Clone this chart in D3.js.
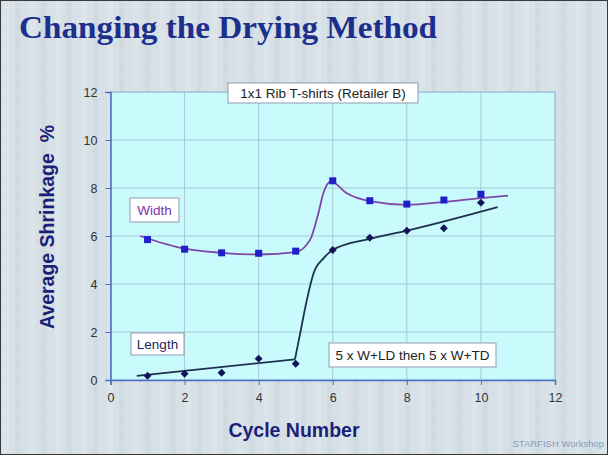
<!DOCTYPE html>
<html>
<head>
<meta charset="utf-8">
<script src="https://cdn.jsdelivr.net/npm/d3@7"></script>
<style>
  body { margin: 0; background: #d6e0e6; }
  svg { display: block; }
</style>
</head>
<body>
<div id="chart"></div>
<script>
// chart data
var cycles = [1, 2, 3, 4, 5, 6, 7, 8, 9, 10];
var widthValues = [5.85, 5.45, 5.3, 5.28, 5.37, 8.3, 7.47, 7.33, 7.5, 7.74];
var lengthValues = [0.18, 0.26, 0.3, 0.89, 0.68, 5.42, 5.93, 6.22, 6.32, 7.39];

// hand drawn trend curves
var widthTrendX = [0.8, 2, 3, 4, 5, 5.39, 5.61, 5.75, 5.95, 6.38, 7, 8, 9, 10, 10.73];
var widthTrendY = [6.0, 5.47, 5.3, 5.23, 5.33, 5.85, 6.94, 7.8, 8.28, 7.78, 7.45, 7.3, 7.42, 7.58, 7.68];
var lengthLowX = [0.71, 4.98];
var lengthLowY = [0.17, 0.86];
var lengthHighX = [4.98, 5.12, 5.3, 5.48, 5.75, 6, 7, 8, 10.45];
var lengthHighY = [0.86, 1.94, 3.33, 4.44, 5.07, 5.42, 5.88, 6.22, 7.2];

var xTicks = [0, 2, 4, 6, 8, 10, 12];
var yTicks = [0, 2, 4, 6, 8, 10, 12];

var W = 608, H = 455;
var plot = { left: 110.5, top: 92, right: 555, bottom: 380 };

var svg = d3.select("#chart").append("svg")
    .attr("width", W)
    .attr("height", H);

// faint woven texture for the slide background
var defs = svg.append("defs");
var pat = defs.append("pattern")
    .attr("id", "weave")
    .attr("width", 26).attr("height", 14)
    .attr("patternUnits", "userSpaceOnUse");
pat.append("rect").attr("width", 26).attr("height", 14).attr("fill", "#d6e0e6");
pat.append("rect").attr("x", 3).attr("width", 6).attr("height", 14).attr("fill", "#dbe4e9");
pat.append("rect").attr("x", 15).attr("width", 5).attr("height", 14).attr("fill", "#d0dae1");
pat.append("rect").attr("y", 6).attr("width", 26).attr("height", 2).attr("fill", "#ffffff").attr("opacity", 0.08);

svg.append("rect")
    .attr("x", 0.5).attr("y", 0.5)
    .attr("width", W - 1).attr("height", H - 1)
    .attr("fill", "url(#weave)")
    .attr("stroke", "#3a3a3a");

// title
svg.append("text")
    .attr("x", 19).attr("y", 38)
    .attr("font-family", "Liberation Serif, Times New Roman, serif")
    .attr("font-weight", "bold")
    .attr("font-size", 32)
    .attr("textLength", 418)
    .attr("lengthAdjust", "spacingAndGlyphs")
    .attr("fill", "#1c2f8c")
    .text("Changing the Drying Method");

var x = d3.scaleLinear().domain([0, 12]).range([plot.left, plot.right]);
var y = d3.scaleLinear().domain([0, 12]).range([plot.bottom, plot.top]);

// plot area
svg.append("rect")
    .attr("x", plot.left).attr("y", plot.top)
    .attr("width", plot.right - plot.left)
    .attr("height", plot.bottom - plot.top)
    .attr("fill", "#cafbfc")
    .attr("stroke", "#8aa4c8");

// gridlines
svg.append("g").selectAll("line")
    .data(xTicks.slice(1, -1))
    .join("line")
    .attr("x1", d => x(d)).attr("x2", d => x(d))
    .attr("y1", plot.top).attr("y2", plot.bottom)
    .attr("stroke", "#a9c6d2").attr("stroke-width", 1);
svg.append("g").selectAll("line")
    .data(yTicks.slice(1, -1))
    .join("line")
    .attr("x1", plot.left).attr("x2", plot.right)
    .attr("y1", d => y(d)).attr("y2", d => y(d))
    .attr("stroke", "#a9c6d2").attr("stroke-width", 1);

// axes
var xAxis = svg.append("g")
    .attr("transform", "translate(0," + plot.bottom + ")")
    .call(d3.axisBottom(x).tickValues(xTicks).tickSize(5).tickPadding(8));
var yAxis = svg.append("g")
    .attr("transform", "translate(" + plot.left + ",0)")
    .call(d3.axisLeft(y).tickValues(yTicks).tickSize(5).tickPadding(8));
[xAxis, yAxis].forEach(function (a) {
    a.select(".domain").attr("stroke", "#4f6fc0").attr("stroke-width", 1.5);
    a.selectAll(".tick line").attr("stroke", "#4f6fc0");
    a.selectAll(".tick text")
        .attr("font-family", "Liberation Sans, Arial, sans-serif")
        .attr("font-size", 12.5)
        .attr("fill", "#333");
});

// axis titles
svg.append("text")
    .attr("transform", "translate(54,227) rotate(-90)")
    .attr("text-anchor", "middle")
    .attr("font-family", "Liberation Sans, Arial, sans-serif")
    .attr("font-weight", "bold")
    .attr("font-size", 19.5)
    .attr("fill", "#1c1f78")
    .text("Average Shrinkage\u00a0\u00a0%");
svg.append("text")
    .attr("x", 294).attr("y", 437)
    .attr("text-anchor", "middle")
    .attr("font-family", "Liberation Sans, Arial, sans-serif")
    .attr("font-weight", "bold")
    .attr("font-size", 19.5)
    .attr("fill", "#1c1f78")
    .text("Cycle Number");

// trend curves
var curveLine = d3.line()
    .x(function (d) { return x(d[0]); })
    .y(function (d) { return y(d[1]); });

svg.append("path")
    .datum(d3.zip(widthTrendX, widthTrendY))
    .attr("fill", "none")
    .attr("stroke", "#7f45a8")
    .attr("stroke-width", 1.8)
    .attr("d", curveLine.curve(d3.curveMonotoneX));

svg.append("path")
    .datum(d3.zip(lengthLowX, lengthLowY))
    .attr("fill", "none")
    .attr("stroke", "#1e3050")
    .attr("stroke-width", 1.8)
    .attr("d", curveLine.curve(d3.curveLinear));
svg.append("path")
    .datum(d3.zip(lengthHighX, lengthHighY))
    .attr("fill", "none")
    .attr("stroke", "#1e3050")
    .attr("stroke-width", 1.8)
    .attr("d", curveLine.curve(d3.curveMonotoneX));

// markers
svg.append("g").selectAll("rect")
    .data(d3.zip(cycles, widthValues))
    .join("rect")
    .attr("x", d => x(d[0]) - 3.5)
    .attr("y", d => y(d[1]) - 3.5)
    .attr("width", 7).attr("height", 7)
    .attr("fill", "#2020c8");

svg.append("g").selectAll("path")
    .data(d3.zip(cycles, lengthValues))
    .join("path")
    .attr("transform", d => "translate(" + x(d[0]) + "," + y(d[1]) + ")")
    .attr("d", d3.symbol(d3.symbolDiamond2, 40))
    .attr("fill", "#12135a");

// label boxes
function labelBox(bx, by, w, h, txt, color) {
    svg.append("rect")
        .attr("x", bx).attr("y", by)
        .attr("width", w).attr("height", h)
        .attr("fill", "#ffffff")
        .attr("stroke", "#8f9cb0");
    svg.append("text")
        .attr("x", bx + w / 2).attr("y", by + h / 2 + 4.5)
        .attr("text-anchor", "middle")
        .attr("font-family", "Liberation Sans, Arial, sans-serif")
        .attr("font-size", 13.5)
        .attr("fill", color)
        .text(txt);
}
labelBox(228, 83, 190, 20, "1x1 Rib T-shirts (Retailer B)", "#222");
labelBox(130, 198, 49, 24, "Width", "#7a35a8");
labelBox(131, 333, 53, 22, "Length", "#1c1f60");
labelBox(329, 343, 167, 24, "5 x W+LD then 5 x W+TD", "#222");

// footer
svg.append("text")
    .attr("x", 604).attr("y", 447)
    .attr("text-anchor", "end")
    .attr("font-family", "Liberation Sans, Arial, sans-serif")
    .attr("font-size", 9.5)
    .attr("fill", "#8c9db6")
    .text("STARFISH Workshop");
</script>
</body>
</html>
